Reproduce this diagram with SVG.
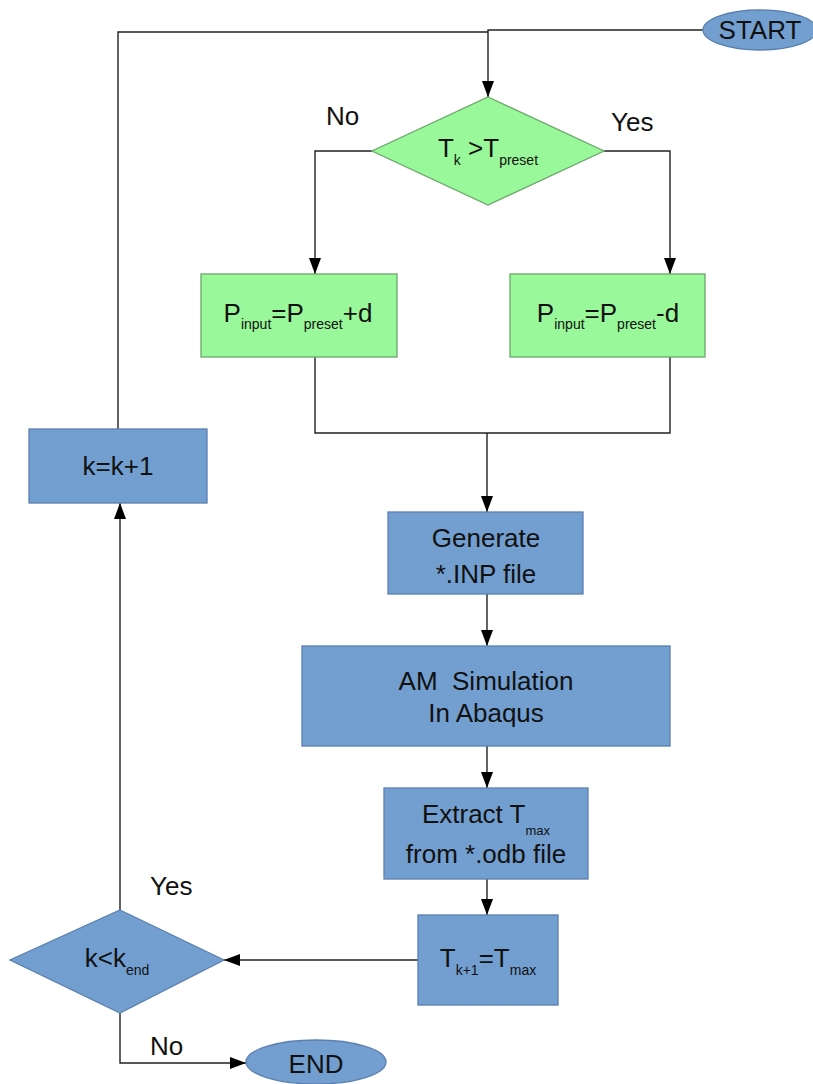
<svg xmlns="http://www.w3.org/2000/svg" width="813" height="1084" viewBox="0 0 813 1084">
<style>
text{font-family:"Liberation Sans",Arial,sans-serif;fill:#111;font-size:26px}
.mid{text-anchor:middle}
.sub{font-size:14px}
.sm{font-size:13px}
.green{fill:#99f899;stroke:#6aa86a;stroke-width:1.3}
.blue{fill:#729fcf;stroke:#5a80b0;stroke-width:1.3}
.conn{fill:none;stroke:#222;stroke-width:1.4}
</style>
<defs>
<marker id="arr" markerWidth="16" markerHeight="12" refX="16" refY="6" orient="auto" markerUnits="userSpaceOnUse">
<path d="M0,0 L16,6 L0,12 Z" fill="#000"/>
</marker>
</defs>
<rect width="813" height="1084" fill="#fff"/>
<g id="connectors">
<polyline class="conn" points="703,30 488,30 488,97" marker-end="url(#arr)"/>
<polyline class="conn" points="118,429 118,32 488,32"/>
<polyline class="conn" points="372,151 315,151 315,274" marker-end="url(#arr)"/>
<polyline class="conn" points="604,151 670,151 670,274" marker-end="url(#arr)"/>
<polyline class="conn" points="315,357 315,433 670,433 670,357"/>
<polyline class="conn" points="487,433 487,512" marker-end="url(#arr)"/>
<polyline class="conn" points="487,594 487,646" marker-end="url(#arr)"/>
<polyline class="conn" points="487,746 487,788" marker-end="url(#arr)"/>
<polyline class="conn" points="487,879 487,915" marker-end="url(#arr)"/>
<polyline class="conn" points="418,960 224,960" marker-end="url(#arr)"/>
<polyline class="conn" points="120,910 120,503" marker-end="url(#arr)"/>
<polyline class="conn" points="120,1013 120,1063 246,1063" marker-end="url(#arr)"/>
<text x="326" y="125">No</text>
<text x="611" y="131">Yes</text>
<text x="150" y="895">Yes</text>
<text x="150" y="1055">No</text>
</g>
<g id="start">
<ellipse class="blue" cx="760" cy="30" rx="57" ry="20"/>
<text class="mid" x="760" y="39">START</text>
</g>
<g id="decision1">
<polygon class="green" points="488,97 604,151 488,205 372,151"/>
<text class="mid" x="488" y="157">T<tspan class="sub" dy="8">k</tspan><tspan dy="-8"> &gt;T</tspan><tspan class="sub" dy="8">preset</tspan></text>
</g>
<g id="p-plus">
<rect class="green" x="201" y="274" width="196" height="83"/>
<text class="mid" x="298" y="322">P<tspan class="sub" dy="7">input</tspan><tspan dy="-7">=P</tspan><tspan class="sub" dy="7">preset</tspan><tspan dy="-7">+d</tspan></text>
</g>
<g id="p-minus">
<rect class="green" x="510" y="274" width="195" height="83"/>
<text class="mid" x="608" y="322">P<tspan class="sub" dy="7">input</tspan><tspan dy="-7">=P</tspan><tspan class="sub" dy="7">preset</tspan><tspan dy="-7">-d</tspan></text>
</g>
<g id="increment">
<rect class="blue" x="29" y="429" width="178" height="74"/>
<text class="mid" x="118" y="475">k=k+1</text>
</g>
<g id="generate">
<rect class="blue" x="388" y="512" width="195" height="82"/>
<text class="mid" x="486" y="547">Generate</text>
<text class="mid" x="486" y="583"> *.INP file</text>
</g>
<g id="simulation">
<rect class="blue" x="302" y="646" width="368" height="100"/>
<text class="mid" x="486" y="690">AM&#160; Simulation</text>
<text class="mid" x="486" y="722">In Abaqus</text>
</g>
<g id="extract">
<rect class="blue" x="384" y="788" width="204" height="91"/>
<text class="mid" x="486" y="823">Extract T<tspan class="sm" dy="12">max</tspan></text>
<text class="mid" x="486" y="863">from *.odb file</text>
</g>
<g id="assign">
<rect class="blue" x="418" y="915" width="140" height="90"/>
<text class="mid" x="488" y="967">T<tspan class="sub" dy="8">k+1</tspan><tspan dy="-8">=T</tspan><tspan class="sub" dy="8">max</tspan></text>
</g>
<g id="decision2">
<polygon class="blue" points="120,910 224,960 120,1013 10,960"/>
<text class="mid" x="117" y="967">k&lt;k<tspan class="sub" dy="8">end</tspan></text>
</g>
<g id="end">
<ellipse class="blue" cx="316" cy="1062" rx="70" ry="22"/>
<text class="mid" x="316" y="1073">END</text>
</g>
</svg>
